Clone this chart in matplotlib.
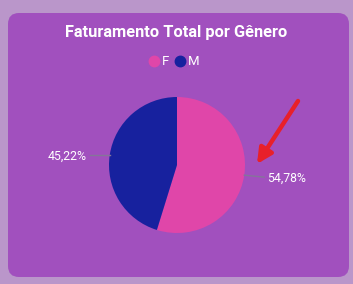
import numpy as np
import matplotlib.pyplot as plt
from matplotlib.patches import FancyBboxPatch
from matplotlib.lines import Line2D

plt.rcParams['font.family'] = ['Roboto', 'DejaVu Sans']

generos = ["F", "M"]
valores = [54.78, 45.22]
cores = ["#E046A9", "#17219E"]
rotulos = ["54,78%", "45,22%"]

W, H = 353, 284
fig = plt.figure(figsize=(W / 100, H / 100), dpi=100, facecolor="#BA96CA")
ax = fig.add_axes([0, 0, 1, 1])

# card
card = FancyBboxPatch((8, 7), 341, 264, boxstyle="round,pad=0,rounding_size=11",
                      fc="#A150BE", ec="none", zorder=0)
ax.add_patch(card)

cx, cy, r = 177, 119, 68
wedges, _ = ax.pie(valores, colors=cores, startangle=90, counterclock=False,
                   center=(cx, cy), radius=r, frame=True,
                   wedgeprops=dict(linewidth=0))
ax.set_xlim(0, W)
ax.set_ylim(0, H)
ax.set_aspect("equal")
ax.axis("off")

# labels with leader lines
for w, lab in zip(wedges, rotulos):
    ang = np.deg2rad((w.theta1 + w.theta2) / 2)
    ex, ey = cx + r * np.cos(ang), cy + r * np.sin(ang)
    side = 1 if np.cos(ang) > 0 else -1
    lx = ex + side * 20
    ly = ey - 2 if side > 0 else ey
    ax.plot([ex, lx], [ey, ly], color="#857599", lw=1.0, zorder=3)
    ax.text(lx + side * 3, ly - 1, lab, ha="left" if side > 0 else "right",
            va="center", color="white", fontsize=8.8)

# title
ax.text(176, H - 33, "Faturamento Total por Gênero", ha="center", va="center",
        color="white", fontsize=11.8, fontweight="bold")

# legend
handles = [Line2D([], [], marker="o", ls="", color=c, markersize=7.5) for c in cores]
leg = ax.legend(handles, generos, loc="center", bbox_to_anchor=(174 / W, 1 - 62 / H),
                ncol=2, frameon=False, handletextpad=0.15, columnspacing=0.4,
                handlelength=0.9, fontsize=9.5)
for t in leg.get_texts():
    t.set_color("white")

# red arrow
ax.annotate("", xy=(257, 120), xytext=(298, 183),
            arrowprops=dict(arrowstyle="-|>,head_length=0.9,head_width=0.45",
                            color="#E8202A", lw=3.2, shrinkA=0, shrinkB=0))

fig.savefig("out.png", dpi=100, facecolor=fig.get_facecolor())
